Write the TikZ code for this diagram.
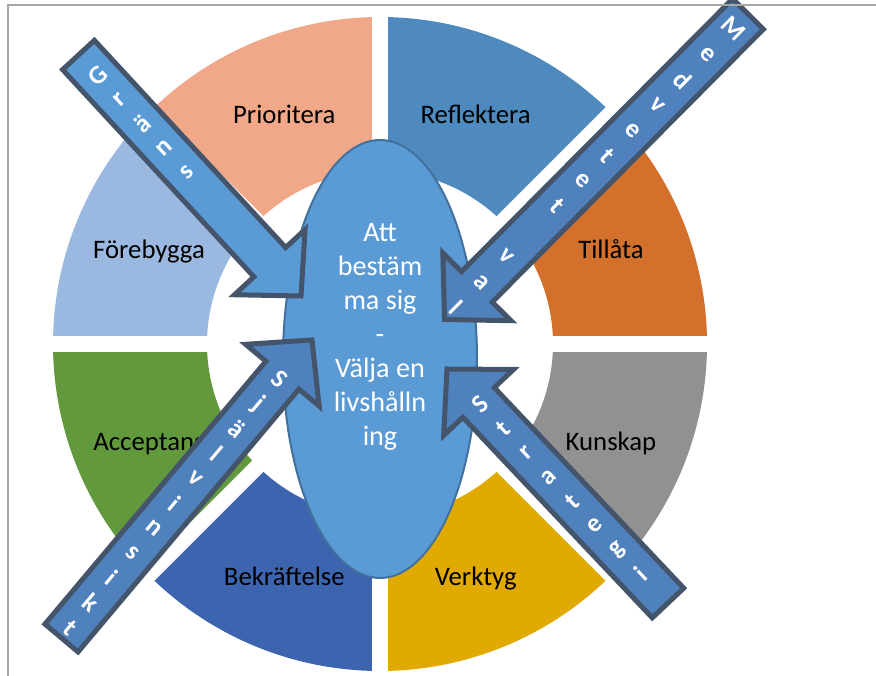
\documentclass[tikz,border=0pt]{standalone}
\usepackage{fontspec}
\setmainfont{Carlito}
\usetikzlibrary{calc}
\definecolor{prio}{HTML}{F0A889}
\definecolor{refl}{HTML}{4E8ABE}
\definecolor{till}{HTML}{D2702C}
\definecolor{kuns}{HTML}{919191}
\definecolor{verk}{HTML}{E1AA00}
\definecolor{bekr}{HTML}{3D64AE}
\definecolor{acc}{HTML}{63993D}
\definecolor{fore}{HTML}{9BB9E0}
\definecolor{corefill}{HTML}{5B9BD5}
\definecolor{coreedge}{HTML}{41719C}
\definecolor{gransfill}{HTML}{5B9BD5}
\definecolor{arrfill}{HTML}{4F81BD}
\definecolor{arrowedge}{HTML}{44546A}
\definecolor{framegray}{HTML}{A6A6A6}
\begin{document}
\begin{tikzpicture}[x=0.025cm,y=0.025cm,
  gapline/.style={white,line width=0.39cm},
  blockarr/.style={draw=arrowedge,line width=0.125cm,line join=miter,fill=#1},
  letter/.style={text=white,inner sep=0pt,font=\bfseries\fontsize{18.5}{18.5}\selectfont},
  seclabel/.style={font=\fontsize{19}{23}\selectfont,text height=12pt,text depth=4pt,yshift=-0.12cm},
  coretext/.style={text=white,align=center,font=\fontsize{20}{24.2}\selectfont}]
\useasboundingbox (0,0) rectangle (876,676);
\pgfmathsetmacro{\ri}{173}
\pgfmathsetmacro{\ro}{327}
\coordinate (C) at (380,332);
\foreach \a/\col/\txt [count=\i] in {90/prio/Prioritera,45/refl/Reflektera,0/till/Tillåta,-45/kuns/Kunskap,-90/verk/Verktyg,-135/bekr/Bekräftelse,-180/acc/Acceptans,135/fore/Förebygga}{
  \fill[\col] ($(C)+(\a:\ri)$) arc[start angle=\a,end angle=\a+45,radius=\ri] -- ($(C)+(\a+45:\ro)$) arc[start angle=\a+45,end angle=\a,radius=\ro] -- cycle;
  \node[seclabel] (sec\i) at ($(C)+(\a+22.5:250)$) {\txt};
}
\foreach \a in {0,45,90,135}
  \draw[gapline] ($(C)+(\a:335)$) -- ($(C)+(\a+180:335)$);
\draw[fill=corefill,draw=coreedge,line width=0.05cm] (380,317) ellipse[x radius=97,y radius=219];
\node[coretext] (core) at (380,339) {Att\\bestäm\\ma sig\\-\\Välja en\\livshålln\\ing};
\pgfmathsetmacro{\sw}{0.54}
\pgfmathsetmacro{\hw}{1.2}
\pgfmathsetmacro{\hl}{1.15}
\coordinate (g1) at (78.5,621); \coordinate (g2) at (301,380);
\coordinate (m1) at (748,662); \coordinate (m2) at (444.5,356.5);
\coordinate (s1) at (61.5,38); \coordinate (s2) at (312,336);
\coordinate (t1) at (668,73); \coordinate (t2) at (447,307);
\foreach \p/\q/\c in {g1/g2/gransfill,m1/m2/arrfill,s1/s2/arrfill,t1/t2/arrfill}{
  \coordinate (\p b) at ($(\q)!\hl cm!(\p)$);
  \draw[blockarr=\c] ($(\p)!\sw cm!90:(\q)$) -- ($(\p b)!\sw cm!-90:(\p)$) -- ($(\p b)!\hw cm!-90:(\p)$) -- (\q) -- ($(\p b)!\hw cm!90:(\p)$) -- ($(\p b)!\sw cm!90:(\p)$) -- ($(\p)!\sw cm!-90:(\q)$) -- cycle;
}
\foreach \ch [count=\i] in {G,r,ä,n,s}{
  \pgfmathsetmacro{\lpos}{(28+(\i-1)*33)*0.025}
  \node[letter,rotate=42.7] (gl\i) at ($(g1)!\lpos cm!(g2)$) {\ch};
}
\foreach \ch [count=\i] in {M,e,d,v,e,t,e,t,{},v,a,l}{
  \pgfmathsetmacro{\lpos}{(21+(\i-1)*35.7)*0.025}
  \node[letter,rotate=-44.7] (ml\i) at ($(m1)!\lpos cm!(m2)$) {\ch};
}
\foreach \ch [count=\i] in {S,j,ä,l,v,i,n,s,i,k,t}{
  \pgfmathsetmacro{\lpos}{(51+(\i-1)*32.5)*0.025}
  \node[letter,rotate=-40.1] (sl\i) at ($(s2)!\lpos cm!(s1)$) {\ch};
}
\foreach \ch [count=\i] in {S,t,r,a,t,e,g,i}{
  \pgfmathsetmacro{\lpos}{(49+(\i-1)*33.3)*0.025}
  \node[letter,rotate=43.4] (tl\i) at ($(t2)!\lpos cm!(t1)$) {\ch};
}
\draw[framegray,line width=0.04cm] (8,0) -- (8,671) -- (876,671);
\end{tikzpicture}
\end{document}
